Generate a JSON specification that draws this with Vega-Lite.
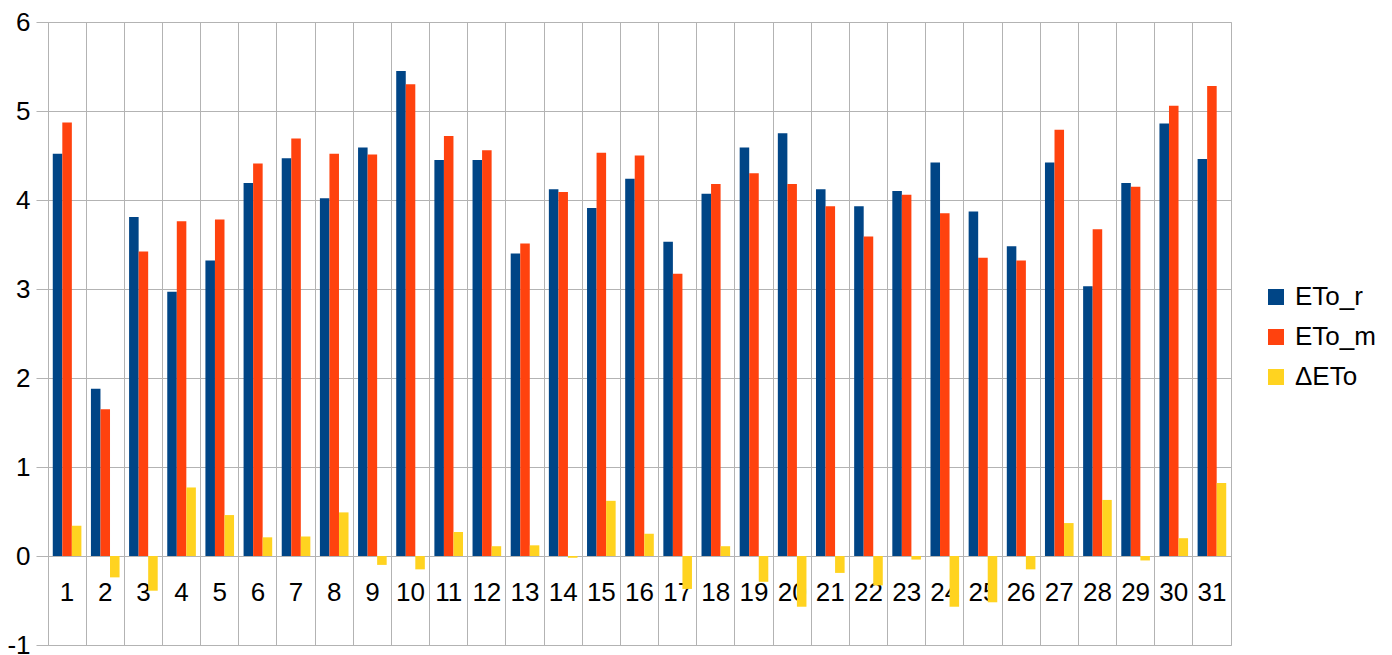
{
  "$schema": "https://vega.github.io/schema/vega-lite/v6.json",
  "autosize": {"type": "none"},
  "padding": {"left": 48, "top": 22, "right": 161, "bottom": 10},
  "width": 1183,
  "height": 623,
  "config": {"view": {"stroke": "#b3b3b3"}, "font": "Liberation Sans"},
  "data": {"values": [
    {"day":1,"series":"ETo_r","value":4.52},{"day":1,"series":"ETo_m","value":4.87},{"day":1,"series":"ΔETo","value":0.34},
    {"day":2,"series":"ETo_r","value":1.88},{"day":2,"series":"ETo_m","value":1.65},{"day":2,"series":"ΔETo","value":-0.24},
    {"day":3,"series":"ETo_r","value":3.81},{"day":3,"series":"ETo_m","value":3.42},{"day":3,"series":"ΔETo","value":-0.39},
    {"day":4,"series":"ETo_r","value":2.97},{"day":4,"series":"ETo_m","value":3.76},{"day":4,"series":"ΔETo","value":0.77},
    {"day":5,"series":"ETo_r","value":3.32},{"day":5,"series":"ETo_m","value":3.78},{"day":5,"series":"ΔETo","value":0.46},
    {"day":6,"series":"ETo_r","value":4.19},{"day":6,"series":"ETo_m","value":4.41},{"day":6,"series":"ΔETo","value":0.21},
    {"day":7,"series":"ETo_r","value":4.47},{"day":7,"series":"ETo_m","value":4.69},{"day":7,"series":"ΔETo","value":0.22},
    {"day":8,"series":"ETo_r","value":4.02},{"day":8,"series":"ETo_m","value":4.52},{"day":8,"series":"ΔETo","value":0.49},
    {"day":9,"series":"ETo_r","value":4.59},{"day":9,"series":"ETo_m","value":4.51},{"day":9,"series":"ΔETo","value":-0.10},
    {"day":10,"series":"ETo_r","value":5.45},{"day":10,"series":"ETo_m","value":5.30},{"day":10,"series":"ΔETo","value":-0.15},
    {"day":11,"series":"ETo_r","value":4.45},{"day":11,"series":"ETo_m","value":4.72},{"day":11,"series":"ΔETo","value":0.27},
    {"day":12,"series":"ETo_r","value":4.45},{"day":12,"series":"ETo_m","value":4.56},{"day":12,"series":"ΔETo","value":0.11},
    {"day":13,"series":"ETo_r","value":3.40},{"day":13,"series":"ETo_m","value":3.51},{"day":13,"series":"ΔETo","value":0.12},
    {"day":14,"series":"ETo_r","value":4.12},{"day":14,"series":"ETo_m","value":4.09},{"day":14,"series":"ΔETo","value":-0.02},
    {"day":15,"series":"ETo_r","value":3.91},{"day":15,"series":"ETo_m","value":4.53},{"day":15,"series":"ΔETo","value":0.62},
    {"day":16,"series":"ETo_r","value":4.24},{"day":16,"series":"ETo_m","value":4.50},{"day":16,"series":"ΔETo","value":0.25},
    {"day":17,"series":"ETo_r","value":3.53},{"day":17,"series":"ETo_m","value":3.17},{"day":17,"series":"ΔETo","value":-0.37},
    {"day":18,"series":"ETo_r","value":4.07},{"day":18,"series":"ETo_m","value":4.18},{"day":18,"series":"ΔETo","value":0.11},
    {"day":19,"series":"ETo_r","value":4.59},{"day":19,"series":"ETo_m","value":4.30},{"day":19,"series":"ΔETo","value":-0.29},
    {"day":20,"series":"ETo_r","value":4.75},{"day":20,"series":"ETo_m","value":4.18},{"day":20,"series":"ΔETo","value":-0.57},
    {"day":21,"series":"ETo_r","value":4.12},{"day":21,"series":"ETo_m","value":3.93},{"day":21,"series":"ΔETo","value":-0.19},
    {"day":22,"series":"ETo_r","value":3.93},{"day":22,"series":"ETo_m","value":3.59},{"day":22,"series":"ΔETo","value":-0.33},
    {"day":23,"series":"ETo_r","value":4.10},{"day":23,"series":"ETo_m","value":4.06},{"day":23,"series":"ΔETo","value":-0.04},
    {"day":24,"series":"ETo_r","value":4.42},{"day":24,"series":"ETo_m","value":3.85},{"day":24,"series":"ΔETo","value":-0.57},
    {"day":25,"series":"ETo_r","value":3.87},{"day":25,"series":"ETo_m","value":3.35},{"day":25,"series":"ΔETo","value":-0.52},
    {"day":26,"series":"ETo_r","value":3.48},{"day":26,"series":"ETo_m","value":3.32},{"day":26,"series":"ΔETo","value":-0.15},
    {"day":27,"series":"ETo_r","value":4.42},{"day":27,"series":"ETo_m","value":4.79},{"day":27,"series":"ΔETo","value":0.37},
    {"day":28,"series":"ETo_r","value":3.03},{"day":28,"series":"ETo_m","value":3.67},{"day":28,"series":"ΔETo","value":0.63},
    {"day":29,"series":"ETo_r","value":4.19},{"day":29,"series":"ETo_m","value":4.15},{"day":29,"series":"ΔETo","value":-0.05},
    {"day":30,"series":"ETo_r","value":4.86},{"day":30,"series":"ETo_m","value":5.06},{"day":30,"series":"ΔETo","value":0.20},
    {"day":31,"series":"ETo_r","value":4.46},{"day":31,"series":"ETo_m","value":5.28},{"day":31,"series":"ΔETo","value":0.82}
  ]},
  "mark": {"type": "bar"},
  "encoding": {
    "x": {
      "field": "day", "type": "ordinal",
      "scale": {"paddingInner": 0, "paddingOuter": 0},
      "axis": {"orient": "bottom", "offset": -89, "bandPosition": 0, "grid": true, "gridColor": "#b3b3b3", "gridOpacity": 1,
               "tickColor": "#b3b3b3", "tickSize": 12, "domain": false, "labelAngle": 0, "labelFontSize": 26,
               "labelColor": "#000000", "labelPadding": 11, "title": null}
    },
    "xOffset": {"field": "series", "sort": ["ETo_r", "ETo_m", "ΔETo"], "scale": {"paddingInner": 0, "paddingOuter": 0.5}},
    "y": {
      "field": "value", "type": "quantitative",
      "scale": {"domain": [-1, 6], "nice": false},
      "axis": {"values": [-1, 0, 1, 2, 3, 4, 5, 6], "grid": true, "gridColor": "#b3b3b3", "gridOpacity": 1,
               "ticks": true, "tickSize": 12, "tickColor": "#b3b3b3", "labelExpr": "'' + datum.value",
               "domain": false, "labelFontSize": 26, "labelColor": "#000000", "labelPadding": 6, "title": null}
    },
    "color": {
      "field": "series", "type": "nominal",
      "scale": {"domain": ["ETo_r", "ETo_m", "ΔETo"], "range": ["#004586", "#ff420e", "#ffd320"]},
      "legend": {"title": null, "orient": "none", "legendX": 1215, "legendY": 262, "labelFontSize": 26, "labelColor": "#000000",
                 "symbolType": "square", "symbolSize": 256, "symbolStrokeWidth": 0, "rowPadding": 14, "labelOffset": 6}
    }
  }
}
